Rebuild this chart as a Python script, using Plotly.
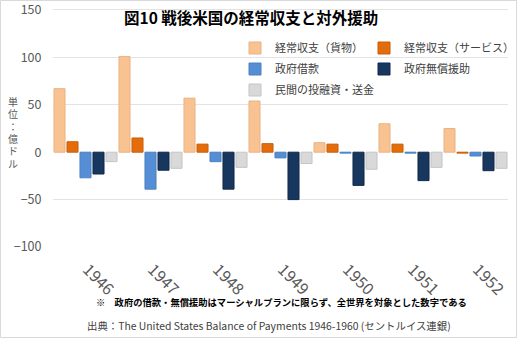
import plotly.graph_objects as go

years = ["1946", "1947", "1948", "1949", "1950", "1951", "1952"]
goods = [67, 101, 57, 54, 10, 30, 25]
services = [11, 15, 8.5, 9, 8.5, 8.5, -1]
loans = [-27, -39, -10, -6, -1, -1, -4]
grants = [-23, -19, -39, -50, -35, -30, -19.5]
private = [-10, -17, -16, -12, -18, -16, -17]
yticks = [-100, -50, 0, 50, 100, 150]

names = ["経常収支（貨物）", "経常収支（サービス）", "政府借款", "政府無償援助", "民間の投融資・送金"]
series = [goods, services, loans, grants, private]
colors = ["#F9C291", "#E46C0A", "#558ED5", "#17375E", "#D9D9D9"]
lines = ["#E8B385", "#C75F0A", "#4A80C0", "#10284A", "#C4C4C4"]
legend_ids = ["legend", "legend2", "legend3", "legend4", "legend5"]

font = "Noto Sans CJK JP"
fig = go.Figure()
for n, s, c, lc, lg in zip(names, series, colors, lines, legend_ids):
    fig.add_trace(go.Bar(x=years, y=s, name=n, marker=dict(color=c, line=dict(color=lc, width=1)),
                         legend=lg))

L, R, T, B = 53, 9, 6, 91
W, H = 517, 338
pw, ph = W - L - R, H - T - B
def px(x):
    return (x - L) / pw
def py(y):
    return 1 - (y - T) / ph

leg_pos = [(275, 48), (404, 48), (275, 69), (404, 69), (275, 90)]
legend_common = dict(font=dict(family=font, size=11, color="#404040"), bgcolor="rgba(0,0,0,0)",
                     xanchor="left", yanchor="middle", itemwidth=30, tracegroupgap=0)
legs = {}
for lg, (x, y) in zip(legend_ids, leg_pos):
    legs[lg] = dict(legend_common, x=px(x - 40), y=py(y))

fig.update_layout(
    width=W, height=H,
    margin=dict(l=L, r=R, t=T, b=B, autoexpand=False),
    paper_bgcolor="white", plot_bgcolor="white",
    font=dict(family=font, color="#595959"),
    barmode="group", bargap=0.0, bargroupgap=0.15,
    showlegend=True,
    **legs,
    xaxis=dict(range=[-0.5, 6.5], tickangle=45, tickfont=dict(size=16, color="#595959", family=font),
               ticks="outside", ticklen=6, tickcolor="rgba(0,0,0,0)", showgrid=False, showline=False,
               ticklabelshift=2, ticklabeloverflow="allow"),
    yaxis=dict(range=[-100, 154.2], tickmode="array", tickvals=yticks, showgrid=True,
               gridcolor="#E3E3E3", gridwidth=1, zeroline=True, zerolinecolor="white", zerolinewidth=1,
               tickfont=dict(size=12.5, color="#595959", family=font),
               ticks="outside", ticklen=8, tickcolor="rgba(0,0,0,0)", ticklabeloverflow="allow"),
)

fig.add_annotation(text="<b>図10 戦後米国の経常収支と対外援助</b>", xref="paper", yref="paper",
                   x=px(251), y=py(17), showarrow=False, font=dict(size=15.5, color="black", family=font),
                   xanchor="center", yanchor="middle")
for i, ch in enumerate("単位：億ドル"):
    fig.add_annotation(text=ch, xref="paper", yref="paper",
                       x=px(13), y=py(101 + i * 12.3), showarrow=False, height=12, borderpad=0,
                       borderwidth=0, font=dict(size=10, color="#595959", family=font),
                       xanchor="center", yanchor="middle")
fig.add_annotation(text="<b>※　政府の借款・無償援助はマーシャルプランに限らず、全世界を対象とした数字である</b>",
                   xref="paper", yref="paper", x=px(281), y=py(302), showarrow=False,
                   font=dict(size=9.3, color="black", family=font), xanchor="center", yanchor="middle")
fig.add_annotation(text="出典：The United States Balance of Payments 1946-1960 (セントルイス連銀)",
                   xref="paper", yref="paper", x=px(269), y=py(325), showarrow=False,
                   font=dict(size=10.4, color="#404040", family=font), xanchor="center", yanchor="middle")
fig.add_shape(type="rect", xref="paper", yref="paper", x0=px(0.5), x1=px(516.5), y0=py(0.5), y1=py(337.5),
              line=dict(color="#D9D9D9", width=1), layer="below")

fig.write_html("out.html")
